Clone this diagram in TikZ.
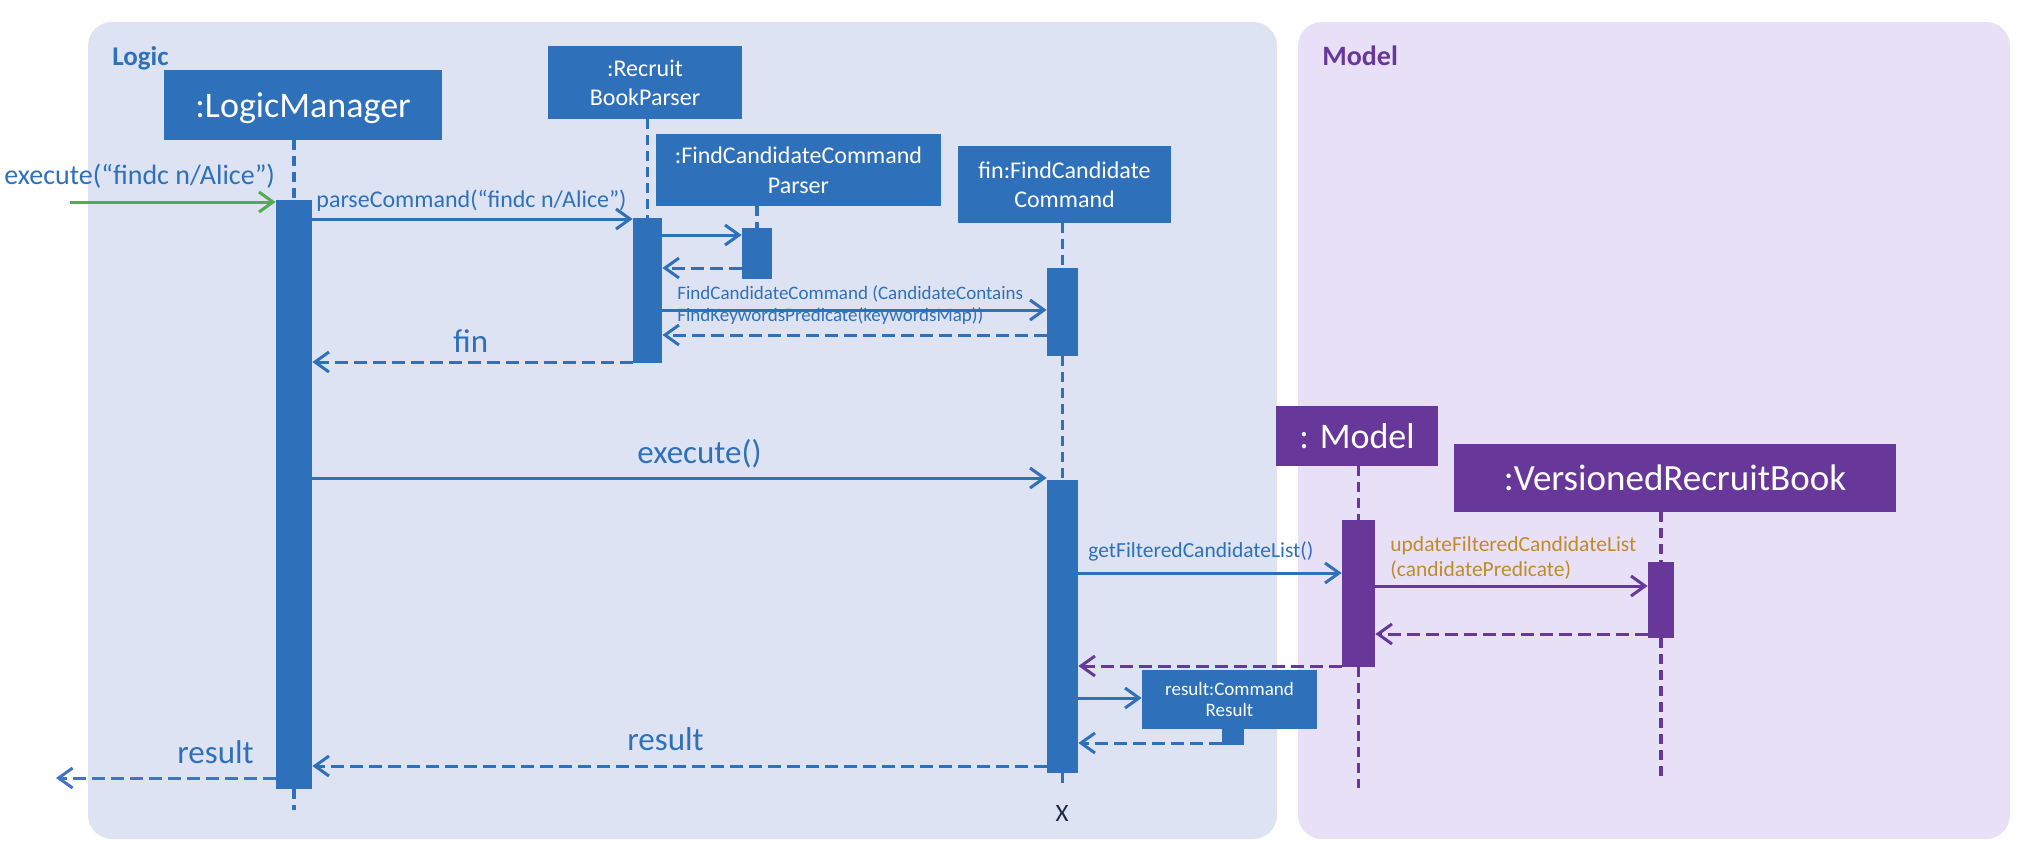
\documentclass[tikz,border=0pt]{standalone}
\usepackage{fontspec}
\setmainfont{Carlito}
\usetikzlibrary{arrows.meta}
\definecolor{ublue}{RGB}{46,112,185}
\definecolor{logicbg}{RGB}{221,227,242}
\definecolor{modelbg}{RGB}{232,224,246}
\definecolor{upurple}{RGB}{103,56,154}
\definecolor{ugold}{RGB}{190,140,44}
\definecolor{ugreen}{RGB}{80,172,80}
\definecolor{rblue}{RGB}{68,114,196}
\definecolor{xnavy}{RGB}{30,40,70}
\newcommand\setfs[2]{\fontsize{#1}{#2}\selectfont}
\begin{document}
\begin{tikzpicture}[x=0.5pt,y=-0.5pt,
  objbox/.style={fill=#1, text=white, inner sep=0pt, align=center},
  actbar/.style={fill=#1, inner sep=0pt},
  lifeline/.style={draw=#1, line width=1.6pt, dash pattern=on 5pt off 3pt},
  msg/.style={draw=#1, line width=1.5pt, -{Straight Barb[length=7pt,width=10pt]}},
  ret/.style={msg=#1, dash pattern=on 6.5pt off 3pt},
  lbl/.style={text=#1, inner sep=0pt, anchor=base west},
]
\useasboundingbox (0,0) rectangle (2034,862);
\fill[white] (0,0) rectangle (2034,862);
% panels
\fill[logicbg, rounded corners=12pt] (88,22) rectangle (1277,839);
\fill[modelbg, rounded corners=12pt] (1298,22) rectangle (2010,839);
\node[lbl=ublue, font=\bfseries\setfs{13.5pt}{16pt}] (logicT) at (112,65) {Logic};
\node[lbl=upurple, font=\bfseries\setfs{14pt}{16pt}] (modelT) at (1322,65) {Model};

% object boxes
\node[objbox=ublue, minimum width=139pt, minimum height=35pt, text depth=0pt, font=\setfs{18pt}{22pt}] (lm) at (303,105) {:LogicManager};
\node[objbox=ublue, minimum width=97pt, minimum height=36.5pt, font=\setfs{12pt}{14.5pt}] (rbp) at (645,82.5) {:Recruit\\BookParser};
\node[objbox=ublue, minimum width=142.5pt, minimum height=36pt, font=\setfs{12pt}{15pt}] (fccp) at (798.5,170) {:FindCandidateCommand\\Parser};
\node[objbox=ublue, minimum width=106.5pt, minimum height=38.5pt, font=\setfs{12pt}{14.5pt}] (fcc) at (1064.5,184.5) {fin:FindCandidate\\Command};
\node[objbox=ublue, minimum width=87.5pt, minimum height=29.5pt, font=\setfs{9.5pt}{10.5pt}] (cr) at (1229.5,699.5) {result:Command\\Result};
\node[objbox=upurple, minimum width=81pt, minimum height=30pt, font=\setfs{18pt}{22pt}] (model) at (1357,436) {: Model};
\node[objbox=upurple, minimum width=221pt, minimum height=34pt, font=\setfs{18.5pt}{22pt}] (vrb) at (1675,478) {:VersionedRecruitBook};

% activation bars
\node[actbar=ublue, minimum width=18pt, minimum height=294.5pt] (lmAct) at (294,494.5) {};
\node[actbar=ublue, minimum width=14.5pt, minimum height=72.5pt] (rbpAct) at (647.5,290.5) {};
\node[actbar=ublue, minimum width=15pt, minimum height=25.5pt] (fccpAct) at (757,253.5) {};
\node[actbar=ublue, minimum width=15.5pt, minimum height=44pt] (fccAct1) at (1062.5,312) {};
\node[actbar=ublue, minimum width=15.5pt, minimum height=146.5pt] (fccAct2) at (1062.5,626.5) {};
\node[actbar=upurple, minimum width=16.5pt, minimum height=73.5pt] (modelAct) at (1358.5,593.5) {};
\node[actbar=upurple, minimum width=13pt, minimum height=38pt] (vrbAct) at (1661,600) {};
\node[actbar=ublue, minimum width=11pt, minimum height=8pt] (crAct) at (1233,737) {};

% lifeline ends
\coordinate (lmEnd) at (0,810);
\coordinate (fccEnd) at (0,788);
\coordinate (modelEnd) at (0,788);
\coordinate (vrbEnd) at (0,779);

% lifelines
\draw[lifeline=ublue] (lmAct.north |- lm.south) -- (lmAct.north);
\draw[lifeline=ublue] (lmAct.south) -- (lmAct.south |- lmEnd);
\draw[lifeline=ublue] (rbpAct.north |- rbp.south) -- (rbpAct.north);
\draw[lifeline=ublue] (fccpAct.north |- fccp.south) -- (fccpAct.north);
\draw[lifeline=ublue] (fccAct1.north |- fcc.south) -- (fccAct1.north);
\draw[lifeline=ublue] (fccAct1.south) -- (fccAct2.north);
\draw[lifeline=ublue] (fccAct2.south) -- (fccAct2.south |- fccEnd);
\draw[lifeline=upurple] (modelAct.north |- model.south) -- (modelAct.north);
\draw[lifeline=upurple] (modelAct.south) -- (modelAct.south |- modelEnd);
\draw[lifeline=upurple] (vrbAct.north |- vrb.south) -- (vrbAct.north);
\draw[lifeline=upurple] (vrbAct.south) -- (vrbAct.south |- vrbEnd);

% message rows
\coordinate (gStart) at (70,202);
\coordinate (m1) at (0,219);
\coordinate (m2) at (0,235);
\coordinate (m3) at (0,268);
\coordinate (m4) at (0,310);
\coordinate (m5) at (0,335);
\coordinate (m6) at (0,362);
\coordinate (m7) at (0,478);
\coordinate (m8) at (0,573);
\coordinate (m9) at (0,586);
\coordinate (m10) at (0,634);
\coordinate (m11) at (0,666);
\coordinate (m12) at (0,698);
\coordinate (m13) at (0,743);
\coordinate (m14) at (0,766);
\coordinate (m15) at (0,778);
\coordinate (outEnd) at (56,778);

% messages
\draw[msg=ugreen] (gStart) -- (gStart -| lmAct.west);
\draw[msg=ublue] (m1 -| lmAct.east) -- (m1 -| rbpAct.west);
\draw[msg=ublue] (m2 -| rbpAct.east) -- (m2 -| fccpAct.west);
\draw[ret=ublue] (m3 -| fccpAct.west) -- (m3 -| rbpAct.east);
\draw[msg=ublue] (m4 -| rbpAct.east) -- (m4 -| fccAct1.west);
\draw[ret=ublue] (m5 -| fccAct1.west) -- (m5 -| rbpAct.east);
\draw[ret=ublue] (m6 -| rbpAct.west) -- (m6 -| lmAct.east);
\draw[msg=ublue] (m7 -| lmAct.east) -- (m7 -| fccAct2.west);
\draw[msg=ublue] (m8 -| fccAct2.east) -- (m8 -| modelAct.west);
\draw[msg=upurple] (m9 -| modelAct.east) -- (m9 -| vrbAct.west);
\draw[ret=upurple] (m10 -| vrbAct.west) -- (m10 -| modelAct.east);
\draw[ret=upurple] (m11 -| modelAct.west) -- (m11 -| fccAct2.east);
\draw[msg=ublue] (m12 -| fccAct2.east) -- (m12 -| cr.west);
\draw[ret=ublue] (m13 -| crAct.west) -- (m13 -| fccAct2.east);
\draw[ret=ublue] (m14 -| fccAct2.west) -- (m14 -| lmAct.east);
\draw[ret=rblue] (m15 -| lmAct.west) -- (outEnd);

% labels
\node[lbl=ublue, font=\setfs{14pt}{17pt}] (exeT) at (4,184) {execute(“findc n/Alice”)};
\node[lbl=ublue, font=\setfs{12pt}{14pt}] (parseT) at (316,207) {parseCommand(“findc n/Alice”)};
\node[lbl=ublue, anchor=north west, align=left, font=\setfs{9.5pt}{11pt}] (ctorT) at (677,285) {FindCandidateCommand (CandidateContains\\FindKeywordsPredicate(keywordsMap))};
\node[lbl=ublue, font=\setfs{16.5pt}{19pt}] (finT) at (453,352) {fin};
\node[lbl=ublue, font=\setfs{16.5pt}{19pt}] (execT) at (637,463) {execute()};
\node[lbl=ublue, font=\setfs{10.75pt}{13pt}] (gfT) at (1088,557) {getFilteredCandidateList()};
\node[lbl=ugold, anchor=north west, align=left, font=\setfs{10.75pt}{12.5pt}] (updT) at (1390,536) {updateFilteredCandidateList\\(candidatePredicate)};
\node[lbl=ublue, font=\setfs{16.5pt}{19pt}] (res1T) at (177,763) {result};
\node[lbl=ublue, font=\setfs{16.5pt}{19pt}] (res2T) at (627,750) {result};
\node[text=xnavy, inner sep=0pt, anchor=base, font=\setfs{12.5pt}{15pt}] (xT) at (1062,821) {X};
\end{tikzpicture}
\end{document}
